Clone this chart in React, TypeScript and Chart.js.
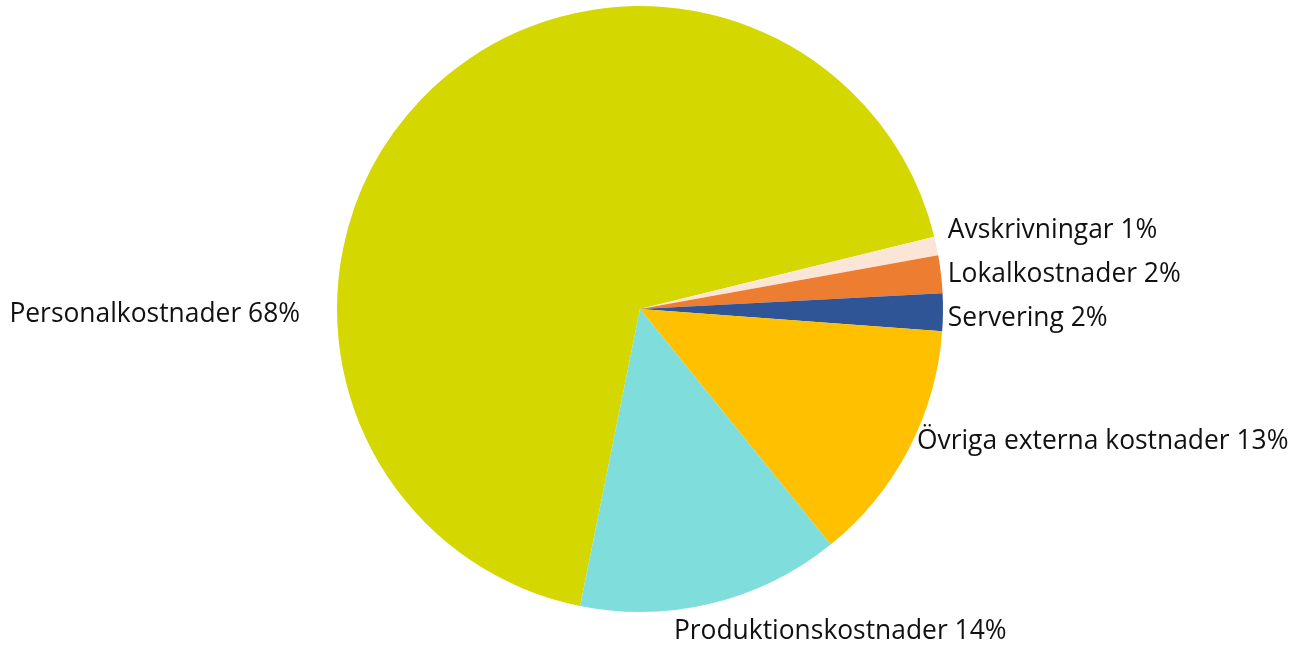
import React, { useEffect, useRef } from "react";
import { Chart, registerables } from "chart.js";

Chart.register(...registerables);

const categories = [
  "Personalkostnader",
  "Avskrivningar",
  "Lokalkostnader",
  "Servering",
  "Övriga externa kostnader",
  "Produktionskostnader",
];
const values = [68, 1, 2, 2, 13, 14];
const colors = ["#D4D800", "#FBE5D6", "#ED7D31", "#2F5597", "#FFC000", "#7FDDDB"];

// label placement relative to pie centre, in units of the outer radius
const labelLayout = [
  { dx: -1.122, dy: 0.042, align: "right" },
  { dx: 1.016, dy: -0.235, align: "left" },
  { dx: 1.016, dy: -0.09, align: "left" },
  { dx: 1.016, dy: 0.056, align: "left" },
  { dx: 0.914, dy: 0.461, align: "left" },
  { dx: 0.112, dy: 1.089, align: "left" },
];

const labelPlugin = {
  id: "outerLabels",
  afterDatasetsDraw(chart: any) {
    const meta = chart.getDatasetMeta(0);
    const ctx = chart.ctx;
    ctx.save();
    ctx.font = '26.4px "Open Sans"';
    ctx.fillStyle = "#111111";
    ctx.textBaseline = "alphabetic";
    meta.data.forEach((arc: any, i: number) => {
      const { x, y, outerRadius } = arc.getProps(["x", "y", "outerRadius"], true);
      const l = labelLayout[i];
      ctx.textAlign = l.align;
      ctx.fillText(`${categories[i]} ${values[i]}%`, x + l.dx * outerRadius, y + l.dy * outerRadius);
    });
    ctx.restore();
  },
};

export default function App() {
  const ref = useRef<HTMLCanvasElement>(null);
  useEffect(() => {
    const chart = new Chart(ref.current!, {
      type: "pie",
      data: {
        labels: categories,
        datasets: [
          {
            data: values,
            backgroundColor: colors,
            borderWidth: 0,
          },
        ],
      },
      options: {
        animation: false,
        responsive: true,
        maintainAspectRatio: false,
        rotation: 191.4,
        layout: { padding: { left: 337, right: 366, top: 6, bottom: 33 } },
        plugins: {
          legend: { display: false },
          tooltip: { enabled: false },
        },
      },
      plugins: [labelPlugin],
    });
    return () => chart.destroy();
  }, []);
  return (
    <div style={{ position: "absolute", left: 0, top: 0, width: 1309, height: 645, background: "#fff" }}>
      <canvas ref={ref} />
    </div>
  );
}
